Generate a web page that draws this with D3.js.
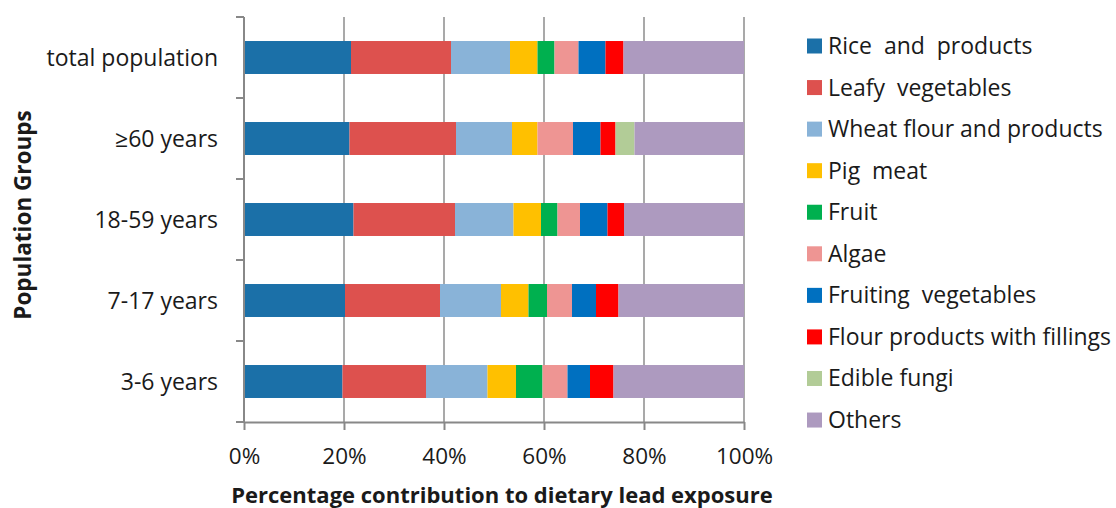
<!DOCTYPE html>
<html><head><meta charset="utf-8">
<script src="https://cdn.jsdelivr.net/npm/d3@7"></script>
<style>body{margin:0;background:#fff}svg{display:block}text{font-family:"Open Sans", sans-serif;fill:#1a1a1a}</style>
</head><body><svg id="c" width="1116" height="508"></svg>
<script>
const categories = ["total population", "\u226560 years", "18-59 years", "7-17 years", "3-6 years"];
const seriesNames = ["Rice  and  products", "Leafy  vegetables", "Wheat flour and products", "Pig  meat", "Fruit", "Algae", "Fruiting  vegetables", "Flour products with fillings", "Edible fungi", "Others"];
const rice     = [21.4, 21.1, 21.9, 20.2, 19.7];
const leafy    = [20.0, 21.3, 20.3, 19.0, 16.7];
const wheat    = [11.8, 11.2, 11.7, 12.2, 12.3];
const pig      = [5.5, 5.1, 5.5, 5.5, 5.7];
const fruit    = [3.4, 0.0, 3.3, 3.7, 5.3];
const algae    = [4.8, 7.1, 4.5, 5.0, 5.0];
const fruiting = [5.4, 5.5, 5.5, 4.8, 4.5];
const flour    = [3.6, 3.0, 3.3, 4.5, 4.7];
const fungi    = [0.0, 3.8, 0.0, 0.0, 0.0];
const others   = [24.1, 21.9, 24.0, 25.1, 26.1];
const xTicks = [0, 20, 40, 60, 80, 100];
const colors = ["#1b70a8", "#dd514e", "#89b3d8", "#ffc000", "#00b04f", "#ee9593", "#0070c0", "#ff0000", "#b2cc97", "#ad9abf"];

const seriesValues = [rice, leafy, wheat, pig, fruit, algae, fruiting, flour, fungi, others];
const rows = categories.map((c, i) => {
  const r = {cat: c};
  seriesNames.forEach((s, j) => r[s] = seriesValues[j][i]);
  return r;
});
const stacked = d3.stack().keys(seriesNames)(rows);

const svg = d3.select("#c");
const x = d3.scaleLinear().domain([0, 100]).range([244, 744]);
const y = d3.scaleBand().domain(categories).range([17, 422]).paddingInner(0.593).paddingOuter(0.2965);

svg.append("g").selectAll("line").data(xTicks.slice(1)).join("line")
  .attr("x1", d => x(d)).attr("x2", d => x(d)).attr("y1", 17).attr("y2", 422)
  .attr("stroke", "#a0a0a0").attr("stroke-width", 1.8);

svg.append("g").selectAll("g").data(stacked).join("g")
  .attr("fill", (d, i) => colors[i])
  .selectAll("rect").data(d => d).join("rect")
  .attr("x", d => x(d[0])).attr("width", d => x(d[1]) - x(d[0]))
  .attr("y", d => y(d.data.cat)).attr("height", y.bandwidth());

const yb = categories.map((c, i) => 17 + i * y.step()).concat([422]);
svg.append("line").attr("x1", 244).attr("x2", 244).attr("y1", 17).attr("y2", 422).attr("stroke", "#888").attr("stroke-width", 2);
svg.append("g").selectAll("line").data(yb).join("line")
  .attr("x1", 236).attr("x2", 244).attr("y1", d => d).attr("y2", d => d)
  .attr("stroke", "#888").attr("stroke-width", 2);

const xAxis = svg.append("g").attr("transform", "translate(0,422)")
  .call(d3.axisBottom(x).tickValues(xTicks).tickFormat(d => d + "%").tickSize(8).tickSizeOuter(0));
xAxis.select(".domain").attr("stroke", "#888").attr("stroke-width", 2);
xAxis.selectAll(".tick line").attr("stroke", "#888").attr("stroke-width", 2);
xAxis.selectAll(".tick text").attr("dy", 0).attr("y", 42).attr("font-size", 22.5).attr("fill", "#1a1a1a")
  .style("font-family", "'Open Sans', sans-serif");

svg.append("g").selectAll("text").data(categories).join("text")
  .attr("x", 218).attr("y", d => y(d) + y.bandwidth() / 2 + 8)
  .attr("text-anchor", "end").attr("font-size", 23).text(d => d);

svg.append("text").attr("x", 502).attr("y", 503).attr("text-anchor", "middle")
  .attr("font-size", 22).attr("font-weight", "bold").text("Percentage contribution to dietary lead exposure");
svg.append("text").attr("transform", "translate(31,215) rotate(-90)").attr("text-anchor", "middle")
  .attr("font-size", 22.5).attr("font-weight", "bold").text("Population Groups");

const lg = svg.append("g").selectAll("g").data(seriesNames).join("g")
  .attr("transform", (d, i) => `translate(807,${46 + i * 41.56})`);
lg.append("rect").attr("x", 0).attr("y", -7.5).attr("width", 15).attr("height", 15).attr("fill", (d, i) => colors[i]);
lg.append("text").attr("x", 21).attr("y", 8).attr("font-size", 23).attr("xml:space", "preserve").style("white-space", "pre").text(d => d);
</script></body></html>
